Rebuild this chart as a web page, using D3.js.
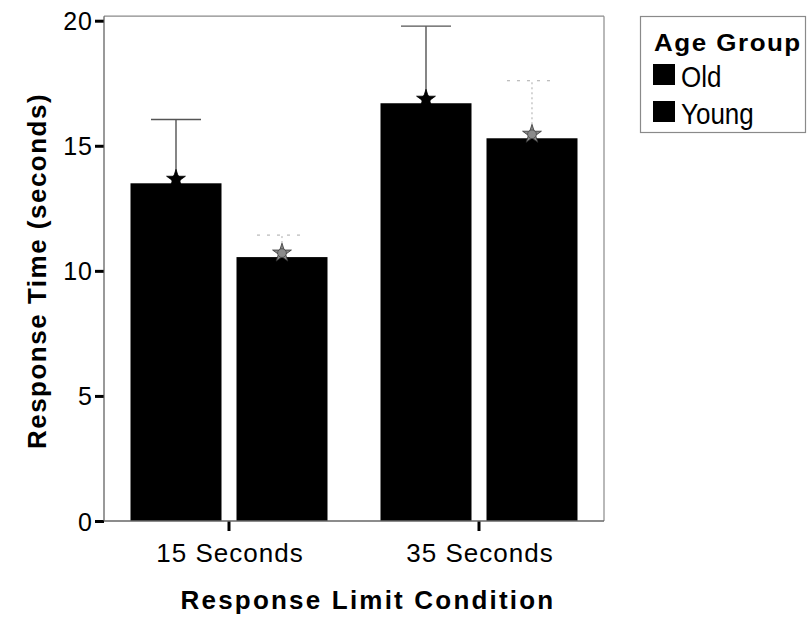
<!DOCTYPE html>
<html>
<head>
<meta charset="utf-8">
<script src="https://cdn.jsdelivr.net/npm/d3@7"></script>
<style>
  html, body { margin: 0; padding: 0; background: #fff; }
  svg { display: block; }
  text { font-family: "Liberation Sans", Arial, Helvetica, sans-serif; fill: #000; }
</style>
</head>
<body>
<svg id="chart" width="809" height="617"></svg>
<script>
// Response time by response-limit condition and age group
const categories = ["15 Seconds", "35 Seconds"];
const groups = ["Old", "Young"];
const meanOld = [13.5, 16.7];
const meanYoung = [10.55, 15.3];
const upperOld = [16.05, 19.78];
const upperYoung = [11.43, 17.6];
const yTicks = [0, 5, 10, 15, 20];

const rows = categories.map((c, i) => ({
  category: c,
  values: [
    { group: "Old", mean: meanOld[i], upper: upperOld[i] },
    { group: "Young", mean: meanYoung[i], upper: upperYoung[i] }
  ]
}));

const svg = d3.select("#chart");
const left = 104, right = 604, bottom = 521, top20 = 20.7;

const x0 = d3.scaleBand().domain(categories).range([left, right]).padding(0);
const x1 = d3.scaleBand().domain(groups).range([26.5, 223.5]).paddingInner(0.1415).paddingOuter(0);
const y = d3.scaleLinear().domain([0, 20]).range([bottom, top20]);

// plot frame (top and right edges)
const frameTop = y(20) - 4.5;
svg.append("line").attr("x1", left).attr("x2", right).attr("y1", frameTop).attr("y2", frameTop)
  .attr("stroke", "#8a8a8a").attr("stroke-width", 1.2);
svg.append("line").attr("x1", right).attr("x2", right).attr("y1", frameTop).attr("y2", bottom)
  .attr("stroke", "#8a8a8a").attr("stroke-width", 1.2);

// bars
const g = svg.append("g");
const grp = g.selectAll("g.cat").data(rows).join("g")
  .attr("class", "cat")
  .attr("transform", d => `translate(${x0(d.category)},0)`);

grp.selectAll("rect").data(d => d.values).join("rect")
  .attr("x", d => x1(d.group))
  .attr("y", d => y(d.mean))
  .attr("width", x1.bandwidth())
  .attr("height", d => y(0) - y(d.mean))
  .attr("fill", "#000");

// upper error whiskers
const capHalf = 25;
grp.selectAll("line.whisker").data(d => d.values).join("line")
  .attr("class", "whisker")
  .attr("x1", d => x1(d.group) + x1.bandwidth() / 2)
  .attr("x2", d => x1(d.group) + x1.bandwidth() / 2)
  .attr("y1", d => y(d.mean) - 4)
  .attr("y2", d => y(d.upper))
  .attr("stroke", d => d.group === "Old" ? "#444" : "#aaa")
  .attr("stroke-width", d => d.group === "Old" ? 1.3 : 1)
  .attr("stroke-dasharray", d => d.group === "Old" ? null : "2,3");

grp.selectAll("line.cap").data(d => d.values).join("line")
  .attr("class", "cap")
  .attr("x1", d => x1(d.group) + x1.bandwidth() / 2 - capHalf)
  .attr("x2", d => x1(d.group) + x1.bandwidth() / 2 + capHalf)
  .attr("y1", d => y(d.upper))
  .attr("y2", d => y(d.upper))
  .attr("stroke", d => d.group === "Old" ? "#555" : "#aaa")
  .attr("stroke-width", d => d.group === "Old" ? 1.3 : 1)
  .attr("stroke-dasharray", d => d.group === "Old" ? null : "3,7");

// mean markers: a round dot with short spikes
const markerCircle = d3.symbol().type(d3.symbolCircle).size(60);
const markerStar = d3.symbol().type(d3.symbolStar).size(110);
["star", "circle"].forEach(kind => {
  grp.selectAll("path.marker-" + kind).data(d => d.values).join("path")
    .attr("class", "marker-" + kind)
    .attr("d", kind === "star" ? markerStar : markerCircle)
    .attr("transform", d => `translate(${x1(d.group) + x1.bandwidth() / 2},${y(d.mean) - 4})`)
    .attr("fill", d => d.group === "Old" ? "#000" : "#8a8a8a")
    .attr("stroke", d => d.group === "Old" ? "#000" : "#333")
    .attr("stroke-width", kind === "star" ? 0.8 : 0.6);
});

// y axis
const yAxis = svg.append("g").attr("transform", `translate(${left},0)`)
  .call(d3.axisLeft(y).tickValues(yTicks).tickSize(9).tickPadding(4).tickFormat(d3.format("d")));
yAxis.select(".domain").remove();
yAxis.append("line").attr("x1", 0).attr("x2", 0).attr("y1", frameTop).attr("y2", bottom)
  .attr("stroke", "#555").attr("stroke-width", 1.2);
yAxis.selectAll(".tick line").attr("stroke", "#000").attr("stroke-width", 3);
yAxis.selectAll(".tick text")
  .attr("font-size", 25).attr("letter-spacing", 1).attr("dy", "0.36em").attr("x", -11);

// x axis
const xAxis = svg.append("g").attr("transform", `translate(0,${bottom})`)
  .call(d3.axisBottom(x0).tickSize(10).tickPadding(0));
xAxis.select(".domain").remove();
xAxis.append("line").attr("x1", left).attr("x2", right).attr("y1", 0).attr("y2", 0)
  .attr("stroke", "#666").attr("stroke-width", 1.5);
xAxis.selectAll(".tick line").attr("stroke", "#000").attr("stroke-width", 3);
xAxis.selectAll(".tick text")
  .attr("font-size", 26).attr("letter-spacing", 1).attr("y", 41).attr("dy", 0).attr("dx", 1);

// axis titles
svg.append("text")
  .attr("x", 368).attr("y", 609)
  .attr("text-anchor", "middle")
  .attr("font-size", 26).attr("font-weight", "bold").attr("letter-spacing", 2.2)
  .text("Response Limit Condition");

svg.append("text")
  .attr("transform", "translate(46,271) rotate(-90)")
  .attr("text-anchor", "middle")
  .attr("font-size", 26).attr("font-weight", "bold").attr("letter-spacing", 1.5)
  .text("Response Time (seconds)");

// legend
const legend = svg.append("g");
legend.append("rect")
  .attr("x", 640.5).attr("y", 16.5).attr("width", 165).attr("height", 116)
  .attr("fill", "none").attr("stroke", "#8a8a8a").attr("stroke-width", 1.2);
legend.append("text")
  .attr("transform", "translate(654,51) scale(1,0.9)")
  .attr("font-size", 26).attr("font-weight", "bold").attr("letter-spacing", 1.5)
  .text("Age Group");
const legendRows = [{ label: "Old", sqY: 64, textY: 87 }, { label: "Young", sqY: 101, textY: 124 }];
legend.selectAll("rect.key").data(legendRows).join("rect")
  .attr("class", "key")
  .attr("x", 653).attr("y", d => d.sqY).attr("width", 22).attr("height", 21)
  .attr("fill", "#000");
legend.selectAll("text.key").data(legendRows).join("text")
  .attr("class", "key")
  .attr("transform", d => `translate(681,${d.textY}) scale(1,1.15)`)
  .attr("font-size", 26)
  .text(d => d.label);
</script>
</body>
</html>
